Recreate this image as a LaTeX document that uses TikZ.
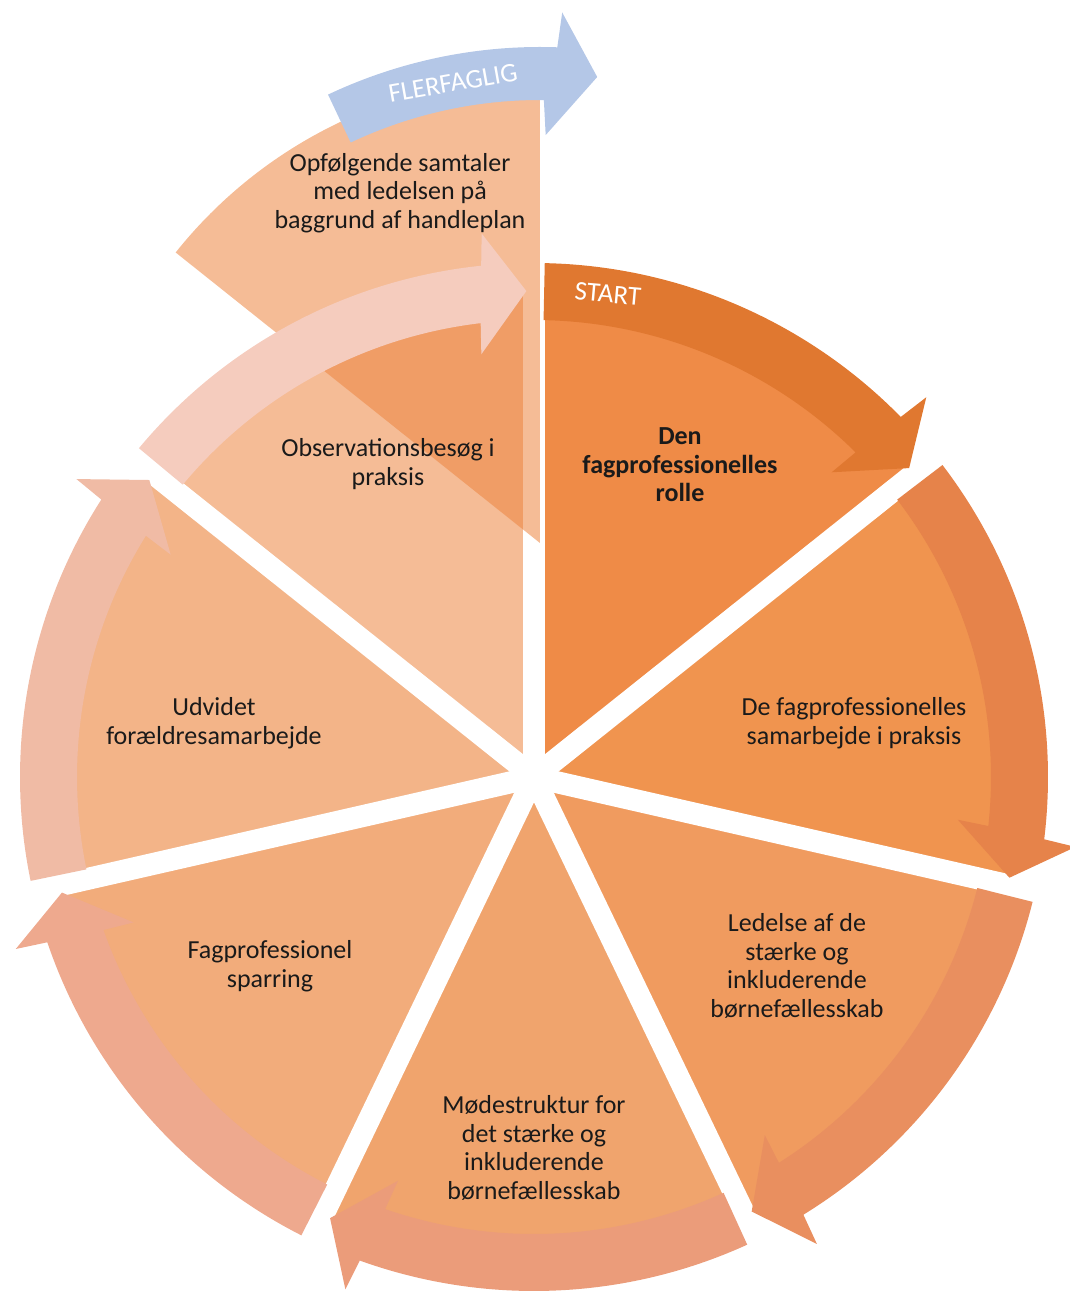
\documentclass[tikz,border=0pt]{standalone}
\usepackage{fontspec}
\setmainfont{Carlito}
\usetikzlibrary{calc}

\definecolor{secA}{HTML}{EF8B47}
\definecolor{secB}{HTML}{F0944F}
\definecolor{secC}{HTML}{F09B5F}
\definecolor{secD}{HTML}{F0A46D}
\definecolor{secE}{HTML}{F2AC7B}
\definecolor{secF}{HTML}{F3B488}
\definecolor{secG}{HTML}{F5BC96}
\definecolor{arrA}{HTML}{E07830}
\definecolor{arrB}{HTML}{E6834A}
\definecolor{arrC}{HTML}{E98F5F}
\definecolor{arrD}{HTML}{EB9C7A}
\definecolor{arrE}{HTML}{EEA98E}
\definecolor{arrF}{HTML}{F0BBA5}
\definecolor{arrG}{HTML}{F5CCBE}
\definecolor{opfol}{HTML}{ED8540}
\definecolor{flerblue}{HTML}{B4C7E7}
\definecolor{ink}{HTML}{1A1A1A}

\begin{document}
\begin{tikzpicture}[x=1pt,y=1pt,
    gap/.style={white, line width=22pt},
    lbl/.style={align=center, text=ink, font=\fontsize{26}{28.5}\selectfont},
    lblbold/.style={lbl, font=\fontsize{26}{28.5}\selectfont\bfseries},
    arrtxt/.style={text=white, font=\fontsize{27}{30}\selectfont}]
    \useasboundingbox (-534,-514) rectangle (536,777);

    % the seven segments
    \fill [secA] (0,0) -- (90:487) arc [start angle=90, end angle=38.57, radius=487] -- cycle;
    \fill [secB] (0,0) -- (38.57:487) arc [start angle=38.57, end angle=-12.86, radius=487] -- cycle;
    \fill [secC] (0,0) -- (-12.86:487) arc [start angle=-12.86, end angle=-64.29, radius=487] -- cycle;
    \fill [secD] (0,0) -- (-64.29:487) arc [start angle=-64.29, end angle=-115.71, radius=487] -- cycle;
    \fill [secE] (0,0) -- (-115.71:487) arc [start angle=-115.71, end angle=-167.14, radius=487] -- cycle;
    \fill [secF] (0,0) -- (-167.14:487) arc [start angle=-167.14, end angle=-218.57, radius=487] -- cycle;
    \fill [secG] (0,0) -- (141.43:487) arc [start angle=141.43, end angle=90, radius=487] -- cycle;

    \draw [gap] (0,0) -- (90:530);
    \draw [gap] (0,0) -- (38.57:530);
    \draw [gap] (0,0) -- (-12.86:530);
    \draw [gap] (0,0) -- (-64.29:530);
    \draw [gap] (0,0) -- (-115.71:530);
    \draw [gap] (0,0) -- (-167.14:530);
    \draw [gap] (0,0) -- (141.43:530);

    % raised segment on top
    \fill [opfol, fill opacity=.55] (6,234) -- ++(0,466) arc [start angle=90, end angle=141.43, radius=466] -- cycle;

    % arrows round the ring
    \fill [arrA] (88.8:514) arc [start angle=88.8, end angle=44.47, radius=514] -- (44.07:546) -- (39.47:486) -- (45.67:426) -- (45.27:457) arc [start angle=45.27, end angle=88.8, radius=457] -- cycle;
    \fill [arrB] (37.37:514) arc [start angle=37.37, end angle=-6.96, radius=514] -- (-7.36:546) -- (-11.96:486) -- (-5.76:426) -- (-6.16:457) arc [start angle=-6.16, end angle=37.37, radius=457] -- cycle;
    \fill [arrC] (-14.06:514) arc [start angle=-14.06, end angle=-58.39, radius=514] -- (-58.79:546) -- (-63.39:486) -- (-57.19:426) -- (-57.59:457) arc [start angle=-57.59, end angle=-14.06, radius=457] -- cycle;
    \fill [arrD] (-65.49:514) arc [start angle=-65.49, end angle=-109.81, radius=514] -- (-110.21:546) -- (-114.81:486) -- (-108.61:426) -- (-109.01:457) arc [start angle=-109.01, end angle=-65.49, radius=457] -- cycle;
    \fill [arrE] (-116.91:514) arc [start angle=-116.91, end angle=-161.24, radius=514] -- (-161.64:546) -- (-166.24:486) -- (-160.04:426) -- (-160.44:457) arc [start angle=-160.44, end angle=-116.91, radius=457] -- cycle;
    \fill [arrF] (-168.34:514) arc [start angle=-168.34, end angle=-212.67, radius=514] -- (-213.07:546) -- (-217.67:486) -- (-211.47:426) -- (-211.87:457) arc [start angle=-211.87, end angle=-168.34, radius=457] -- cycle;
    \fill [arrG] (140.23:514) arc [start angle=140.23, end angle=95.9, radius=514] -- (95.5:546) -- (90.9:486) -- (97.1:426) -- (96.7:457) arc [start angle=96.7, end angle=140.23, radius=457] -- cycle;

    \begin{scope}[shift={(6,234)}]
      \fill [flerblue] (115.3:496) arc [start angle=115.3, end angle=88, radius=496] -- (87.6:531) -- (83:469.5) -- (89.2:408) -- (89.5:443) arc [start angle=89.5, end angle=115.3, radius=443] -- cycle;
    \end{scope}

    \node [lbl] (opfolg) at (-134,584) {Opfølgende samtaler\\med ledelsen på\\baggrund af handleplan};
    \node [lblbold] (rolle) at (146,312) {Den\\fagprofessionelles\\rolle};
    \node [lbl] (samarb) at (320,54) {De fagprofessionelles\\samarbejde i praksis};
    \node [lbl] (ledelse) at (263,-189) {Ledelse af de\\stærke og\\inkluderende\\børnefællesskab};
    \node [lbl] (moede) at (0,-371) {Mødestruktur for\\det stærke og\\inkluderende\\børnefællesskab};
    \node [lbl] (sparring) at (-264,-189) {Fagprofessionel\\sparring};
    \node [lbl] (udvidet) at (-320,54) {Udvidet\\forældresamarbejde};
    \node [lbl] (observ) at (-146,313) {Observationsbesøg i\\praksis};
    \node [arrtxt, rotate=-5] (start) at (74,483) {START};
    \node [arrtxt, rotate=10] (flerfaglig) at (-81,694) {FLERFAGLIG};
\end{tikzpicture}
\end{document}
